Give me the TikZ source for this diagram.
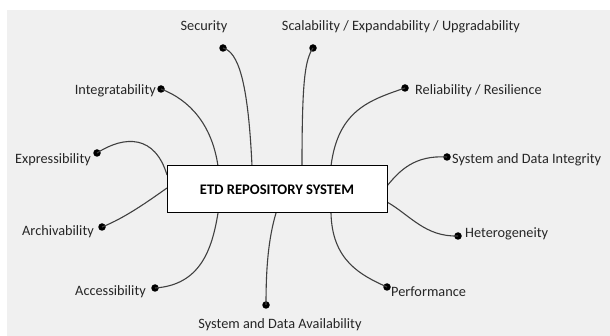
\documentclass[tikz,border=0pt]{standalone}
\usepackage{fontspec}
\setmainfont{Carlito}
\begin{document}
\begin{tikzpicture}[x=1pt,y=-1pt,
  lbl/.style={font=\fontsize{14.3}{16}\selectfont, text=black!85, inner sep=0pt},
  dot/.style={circle, fill=black, inner sep=0pt, minimum size=7.5pt},
  conn/.style={draw=black!75, line width=1.1pt},
  mainbox/.style={draw=black, line width=1pt, fill=white, minimum width=220pt, minimum height=47pt, font=\fontsize{14.6}{16}\selectfont\bfseries, inner sep=0pt}]
\useasboundingbox (0,0) rectangle (610,336);
\fill[white] (0,0) rectangle (610,336);
\fill[black!6] (7,10) rectangle (610,336);
\node[mainbox] (box) at (277,189.5) {ETD REPOSITORY SYSTEM};
% attach points
\coordinate (aSec) at (252,166);
\coordinate (aSca) at (302,166);
\coordinate (aInt) at (218,166);
\coordinate (aRel) at (331,166);
\coordinate (aExp) at (167,175);
\coordinate (aArc) at (167,188);
\coordinate (aIng) at (387,186);
\coordinate (aHet) at (387,202);
\coordinate (aAcc) at (218,213);
\coordinate (aAva) at (276,213);
\coordinate (aPer) at (331,213);
% dots
\node[dot] (dSec) at (223,48) {};
\node[dot] (dSca) at (313,48) {};
\node[dot] (dInt) at (161,89) {};
\node[dot] (dRel) at (405,88) {};
\node[dot] (dExp) at (97,153) {};
\node[dot] (dArc) at (102,227) {};
\node[dot] (dIng) at (447,157) {};
\node[dot] (dHet) at (458,236) {};
\node[dot] (dAcc) at (155,288) {};
\node[dot] (dAva) at (266,305) {};
\node[dot] (dPer) at (387,287) {};
% labels
\node[lbl] (lSec) at (204,27) {Security};
\node[lbl] (lSca) at (401,27) {Scalability / Expandability / Upgradability};
\node[lbl, anchor=west] (lRel) at (415,91) {Reliability / Resilience};
\node[lbl, anchor=west] (lIng) at (452,160) {System and Data Integrity};
\node[lbl, anchor=west] (lHet) at (465,234) {Heterogeneity};
\node[lbl, anchor=west] (lPer) at (391,292) {Performance};
\node[lbl] (lAva) at (280,325) {System and Data Availability};
\node[lbl, anchor=east] (lAcc) at (146,292) {Accessibility};
\node[lbl, anchor=east] (lArc) at (94,232) {Archivability};
\node[lbl, anchor=east] (lExp) at (91,160) {Expressibility};
\node[lbl, anchor=east] (lInt) at (156,91) {Integratability};
% connectors
\draw[conn] (dSec.center) .. controls (238,52) and (248,80) .. (aSec);
\draw[conn] (dSca.center) .. controls (305,60) and (302,80) .. (aSca);
\draw[conn] (dInt.center) .. controls (190,100) and (212,125) .. (aInt);
\draw[conn] (dRel.center) .. controls (370,100) and (338,110) .. (aRel);
\draw[conn] (dExp.center) .. controls (125,135) and (155,135) .. (aExp);
\draw[conn] (dArc.center) .. controls (125,218) and (150,200) .. (aArc);
\draw[conn] (aIng) .. controls (400,170) and (415,155) .. (dIng.center);
\draw[conn] (aHet) .. controls (410,215) and (425,237) .. (dHet.center);
\draw[conn] (aAcc) .. controls (212,250) and (200,285) .. (dAcc.center);
\draw[conn] (aAva) .. controls (268,240) and (266,270) .. (dAva.center);
\draw[conn] (aPer) .. controls (332,260) and (360,275) .. (dPer.center);
\node[mainbox] at (box) {ETD REPOSITORY SYSTEM};
\end{tikzpicture}
\end{document}
